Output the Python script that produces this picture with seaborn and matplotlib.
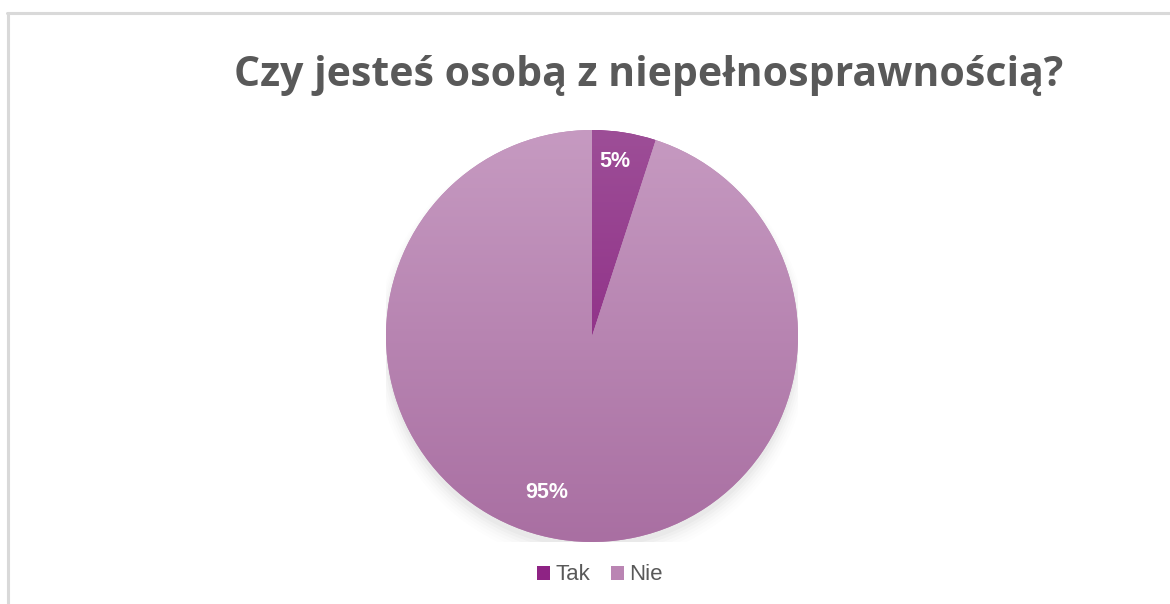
import numpy as np
import matplotlib
matplotlib.use("Agg")
import matplotlib.pyplot as plt
import seaborn as sns
from matplotlib.lines import Line2D
from matplotlib.patches import Patch, Ellipse
import matplotlib.colors as mcolors

title = "Czy jesteś osobą z niepełnosprawnością?"
categories = ["Tak", "Nie"]
values = [5, 95]
base_colors = ["#8E2384", "#BA85B3"]
top_colors = ["#9D4E97", "#C69AC1"]
bottom_colors = ["#861A7C", "#A96FA2"]

sns.set_theme(style="white")
plt.rcParams['font.family'] = ['Open Sans', 'DejaVu Sans']

fig = plt.figure(figsize=(11.7, 6.04), dpi=100)
fig.patch.set_facecolor("white")

# chart-area border (top and left visible)
fig.add_artist(Line2D([7/1170, 1], [1 - 13/604, 1 - 13/604], color="#D9D9D9", lw=2.2, transform=fig.transFigure))
fig.add_artist(Line2D([7.5/1170, 7.5/1170], [0, 1 - 13/604], color="#D9D9D9", lw=2.2, transform=fig.transFigure))

cx, cy, r = 592, 604 - 336, 206
ax = fig.add_axes([(cx - r) / 1170, (cy - r) / 604, 2 * r / 1170, 2 * r / 604])

# soft shadow
for i, a in enumerate(np.linspace(0.025, 0.006, 6)):
    sh = Ellipse((0.0, -0.03 - 0.005 * i), 2.0 + 0.02 * i, 2.0 + 0.02 * i, color="black", alpha=a, lw=0, zorder=0)
    ax.add_patch(sh)

wedges, texts, autotexts = ax.pie(
    values, colors=base_colors, startangle=90, counterclock=False, radius=1.0,
    autopct=lambda p: f"{p:.0f}%", pctdistance=0.84,
    wedgeprops=dict(linewidth=0, zorder=1),
    textprops=dict(color="white", fontsize=15.5, fontweight="bold", family=["Liberation Sans", "DejaVu Sans"]),
)
for t in autotexts:
    t.set_zorder(5)
autotexts[0].set_position((0.11, 0.845))
# Excel-like placement of the large-slice label
ang = np.deg2rad(-106)
autotexts[1].set_position((0.79 * np.cos(ang), 0.79 * np.sin(ang)))

grad = np.linspace(0, 1, 256).reshape(-1, 1)
for w, tc, bc in zip(wedges, top_colors, bottom_colors):
    cmap = mcolors.LinearSegmentedColormap.from_list("g", [tc, bc])
    im = ax.imshow(grad, cmap=cmap, extent=[-1, 1, -1, 1], origin="upper", aspect="auto", zorder=2)
    im.set_clip_path(w)

ax.set_xlim(-1, 1)
ax.set_ylim(-1, 1)
ax.set_aspect("auto")
ax.axis("off")

fig.text(649 / 1170, 1 - 75 / 604, title, ha="center", va="center", fontsize=29.5,
         fontweight="bold", color="#595959")

handles = [Patch(facecolor=c, edgecolor="none") for c in base_colors]
leg = fig.legend(handles, categories, loc="center", bbox_to_anchor=(600 / 1170, 1 - 575 / 604),
                 ncol=2, frameon=False, handlelength=0.6, handleheight=0.6,
                 handletextpad=0.25, columnspacing=0.9,
                 prop=dict(family=["Liberation Sans", "DejaVu Sans"], size=16))
for t in leg.get_texts():
    t.set_color("#595959")

fig.savefig("out.png", dpi=100, facecolor="white")
